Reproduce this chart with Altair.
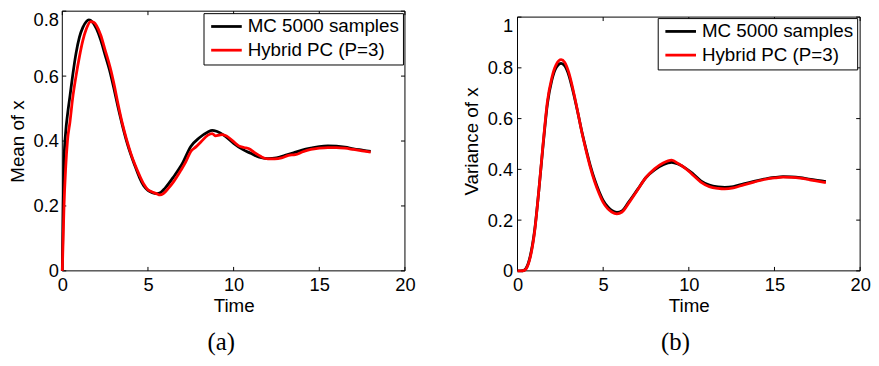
import altair as alt
import pandas as pd

# ---------------- data ----------------
series_names = ["MC 5000 samples", "Hybrid PC (P=3)"]
series_colors = ["#000000", "#ff0000"]

mean_mc_t = [0, 0.05, 0.1, 0.2, 0.3, 0.45, 0.6, 0.8, 1.0, 1.2, 1.4, 1.55, 1.75, 2.0, 2.25, 2.5,
             2.75, 3.0, 3.25, 3.5, 3.75, 4.0, 4.25, 4.5, 4.75, 5.0, 5.25, 5.5, 5.75, 6.0, 6.5,
             7.0, 7.5, 8.0, 8.5, 8.75, 9.0, 9.5, 10.0, 10.5, 11.0, 11.5, 12.0, 12.5, 13.0, 13.5,
             14.0, 14.5, 15.0, 15.5, 16.0, 16.5, 17.0, 17.5, 18.0]
mean_mc = [0, 0.2, 0.34, 0.43, 0.48, 0.54, 0.6, 0.67, 0.72, 0.75, 0.768, 0.773, 0.767, 0.745,
           0.71, 0.665, 0.62, 0.565, 0.505, 0.45, 0.4, 0.358, 0.322, 0.288, 0.262, 0.248, 0.241,
           0.238, 0.242, 0.255, 0.29, 0.33, 0.383, 0.41, 0.428, 0.433, 0.43, 0.415, 0.393, 0.375,
           0.362, 0.35, 0.346, 0.348, 0.356, 0.364, 0.372, 0.378, 0.383, 0.385, 0.384, 0.381,
           0.376, 0.372, 0.368]

mean_pc_t = [0, 0.05, 0.1, 0.2, 0.3, 0.45, 0.6, 0.8, 1.0, 1.2, 1.4, 1.65, 1.85, 2.0, 2.25, 2.5,
             2.7, 2.85, 3.0, 3.25, 3.5, 3.75, 4.0, 4.25, 4.5, 4.75, 5.0, 5.25, 5.5, 5.7, 5.9, 6.2,
             6.5, 6.9, 7.2, 7.5, 7.8, 8.1, 8.5, 8.75, 8.95, 9.15, 9.35, 9.6, 10.0, 10.3, 10.6,
             10.9, 11.2, 11.6, 12.0, 12.4, 12.8, 13.2, 13.6, 14.0, 14.5, 15.0, 15.5, 16.0, 16.5,
             17.0, 17.5, 18.0]
mean_pc = [0, 0.1, 0.2, 0.32, 0.4, 0.46, 0.53, 0.6, 0.66, 0.71, 0.745, 0.768, 0.765, 0.755,
           0.725, 0.68, 0.645, 0.615, 0.58, 0.515, 0.455, 0.405, 0.362, 0.326, 0.295, 0.268, 0.25,
           0.243, 0.238, 0.234, 0.238, 0.255, 0.275, 0.308, 0.335, 0.368, 0.382, 0.398, 0.418,
           0.423, 0.416, 0.418, 0.42, 0.415, 0.398, 0.385, 0.38, 0.376, 0.365, 0.352, 0.345,
           0.345, 0.348, 0.356, 0.358, 0.366, 0.374, 0.378, 0.38, 0.38, 0.378, 0.374, 0.37, 0.366]

var_t = [0, 0.2, 0.4, 0.5, 0.75, 1.0, 1.25, 1.5, 1.75, 2.0, 2.25, 2.55, 2.75, 3.0, 3.25, 3.5,
         3.75, 4.0, 4.25, 4.5, 4.75, 5.0, 5.25, 5.5, 5.8, 6.1, 6.5, 7.0, 7.5, 8.0, 8.5, 9.0, 9.4,
         9.8, 10.2, 10.7, 11.2, 11.7, 12.1, 12.6, 13.2, 13.8, 14.5, 15.0, 15.5, 16.0, 16.5, 17.0,
         17.5, 18.0]
var_mc = [0, 0, 0.003, 0.01, 0.06, 0.16, 0.32, 0.5, 0.66, 0.75, 0.8, 0.818, 0.808, 0.77, 0.705,
          0.63, 0.55, 0.48, 0.415, 0.36, 0.315, 0.278, 0.254, 0.238, 0.23, 0.236, 0.272, 0.32,
          0.368, 0.398, 0.418, 0.428, 0.42, 0.405, 0.385, 0.355, 0.338, 0.331, 0.329, 0.332,
          0.343, 0.353, 0.363, 0.368, 0.371, 0.37, 0.367, 0.362, 0.357, 0.352]
var_pc = [0, 0, 0.002, 0.008, 0.055, 0.155, 0.32, 0.505, 0.67, 0.76, 0.812, 0.832, 0.822, 0.78,
          0.712, 0.632, 0.548, 0.475, 0.408, 0.352, 0.307, 0.27, 0.246, 0.232, 0.225, 0.232,
          0.268, 0.318, 0.368, 0.402, 0.425, 0.436, 0.422, 0.404, 0.38, 0.35, 0.332, 0.325,
          0.323, 0.327, 0.339, 0.35, 0.361, 0.366, 0.369, 0.368, 0.365, 0.36, 0.354, 0.348]

x_domain = [0, 20]
x_ticks = [0, 5, 10, 15, 20]
mean_ticks = [0, 0.2, 0.4, 0.6, 0.8]
var_ticks = [0, 0.2, 0.4, 0.6, 0.8, 1]
mean_domain = [0, 0.8]
var_domain = [0, 1.0233]
x_title = "Time"
y_titles = ["Mean of x", "Variance of x"]
captions = ["(a)", "(b)"]

# ---------------- styling ----------------
FONT = "Liberation Sans"
W, H = 347, 263
TICK = 4
LW = 2.8


def panel(t_mc, v_mc, t_pc, v_pc, yticks, ydomain, ytitle, caption, leg_xy, cap_xy, ylabpad):
    xs = alt.Scale(domain=x_domain, nice=False, zero=False)
    ys = alt.Scale(domain=ydomain, nice=False, zero=False)
    ytop = yticks[-1]
    xaxis = alt.Axis(values=x_ticks, title=x_title, ticks=False, domain=False, grid=False,
                     labelFlush=False, labelPadding=5, titlePadding=3)
    # the top label hangs below its tick so that it stays inside the page
    yaxis = alt.Axis(values=yticks, title=ytitle, format="~g", ticks=False, domain=False,
                     grid=False, labelFlush=False, labelPadding=ylabpad, titlePadding=6,
                     labelBaseline={"condition": {"test": f"datum.value >= {ytop - 0.001}",
                                                  "value": "top"},
                                    "value": "middle"})
    X = alt.X("t:Q", scale=xs, axis=xaxis)
    Y = alt.Y("v:Q", scale=ys, axis=yaxis)
    legend = alt.Legend(title=None, orient="none", legendX=leg_xy[0], legendY=leg_xy[1],
                        direction="vertical")
    color = alt.Color("series:N", scale=alt.Scale(domain=series_names, range=series_colors),
                      legend=legend)

    df_mc = pd.DataFrame({"t": t_mc, "v": v_mc, "series": series_names[0]})
    df_pc = pd.DataFrame({"t": t_pc, "v": v_pc, "series": series_names[1]})
    l_mc = alt.Chart(df_mc).mark_line(strokeWidth=LW, interpolate="monotone").encode(
        x=X, y=Y, color=color)
    l_pc = alt.Chart(df_pc).mark_line(strokeWidth=LW, interpolate="monotone").encode(
        x=X, y=Y, color=color)

    frame_df = pd.DataFrame({
        "t": [x_domain[0], x_domain[1], x_domain[0], x_domain[0]],
        "t2": [x_domain[0], x_domain[1], x_domain[1], x_domain[1]],
        "v": [0, 0, 0, ytop],
        "v2": [ytop, ytop, 0, ytop],
    })
    frame = alt.Chart(frame_df).mark_rule(color="black", strokeWidth=1).encode(
        x=X, x2="t2:Q", y=Y, y2="v2:Q")

    xt = pd.DataFrame({"t": x_ticks})
    yt = pd.DataFrame({"v": yticks})
    xt_bot = alt.Chart(xt).mark_rule(color="black", y2Offset=-TICK).encode(
        x=X, y=alt.YDatum(0), y2=alt.Y2Datum(0))
    xt_top = alt.Chart(xt).mark_rule(color="black", y2Offset=TICK).encode(
        x=X, y=alt.YDatum(ytop), y2=alt.Y2Datum(ytop))
    yt_left = alt.Chart(yt).mark_rule(color="black", x2Offset=TICK).encode(
        y=Y, x=alt.XDatum(x_domain[0]), x2=alt.X2Datum(x_domain[0]))
    yt_right = alt.Chart(yt).mark_rule(color="black", x2Offset=-TICK).encode(
        y=Y, x=alt.XDatum(x_domain[1]), x2=alt.X2Datum(x_domain[1]))

    cap = alt.Chart(pd.DataFrame({"caption": [caption]})).mark_text(
        font="Liberation Serif", fontSize=25, color="black").encode(
        text="caption:N", x=alt.value(cap_xy[0]), y=alt.value(cap_xy[1]))

    return alt.layer(frame, xt_bot, xt_top, yt_left, yt_right, l_mc, l_pc, cap).properties(
        width=W, height=H)


left = panel(mean_mc_t, mean_mc, mean_pc_t, mean_pc, mean_ticks, mean_domain, y_titles[0],
             captions[0], (143, 2), (161, H + 72), 4)
right = panel(var_t, var_mc, var_t, var_pc, var_ticks, var_domain, y_titles[1],
              captions[1], (142, 7), (160, H + 72), 5)

chart = alt.hconcat(left, right, spacing=47).resolve_scale(
    x="independent", y="independent", color="independent"
).configure_view(stroke=None).configure_axis(
    labelFont=FONT, labelFontSize=18.5, labelColor="black",
    titleFont=FONT, titleFontSize=19, titleFontWeight="normal", titleColor="black",
).configure_legend(
    labelFont=FONT, labelFontSize=19, labelColor="black", labelLimit=400,
    symbolType="M-2,0H2", symbolSize=240, symbolStrokeWidth=LW,
    symbolOffset=9.75, padding=4, rowPadding=4, labelOffset=12,
    strokeColor="black", fillColor="white", cornerRadius=0,
).properties(padding={"left": 0, "top": 0, "right": 0, "bottom": 0},
             background="white")

chart.save("out.html", embed_options={"renderer": "svg", "actions": False})
